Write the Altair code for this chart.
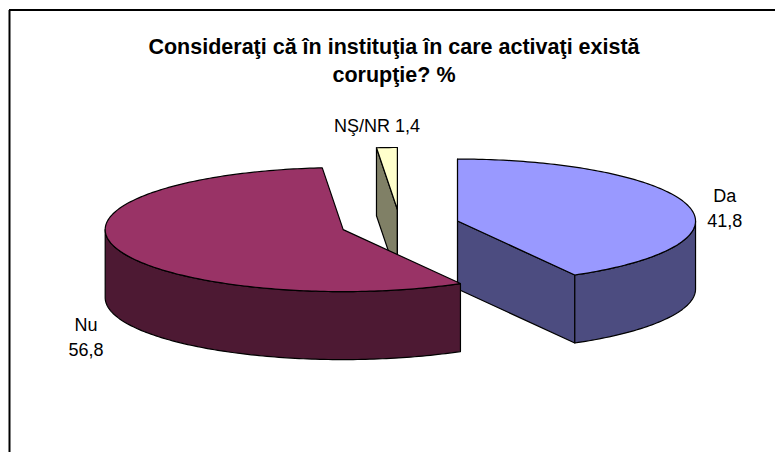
import math
import altair as alt
import pandas as pd

# ---- data ----
categories = ["Da", "Nu", "NŞ/NR"]
values = [41.8, 56.8, 1.4]
value_labels = ["41,8", "56,8", "1,4"]
label_texts = ["Da\n41,8", "Nu\n56,8", "NŞ/NR 1,4"]
top_colors = ["#9999FF", "#993366", "#FFFFCC"]
side_colors = ["#4C4C80", "#4D1933", "#808066"]
title_lines = ["Consideraţi că în instituţia în care activaţi există", "corupţie? %"]

# ---- 3D pie look (style / layout) ----
TILT = 62 / 238.0          # vertical squash of the top ellipse
DEPTH = 68 / 238.0         # thickness of the pie
EXPLODE = 0.25             # explode distance (fraction of radius)
RADIUS_PX = 238.0
CENTER_VIEW = (391.0, 215.0)
W, H = 766, 442
PAD = {"left": 1, "top": 2, "right": 0, "bottom": 0}

total = sum(values)
starts, ends = [], []
acc = 0.0
for v in values:
    starts.append(acc / total * 360.0)
    acc += v
    ends.append(acc / total * 360.0)


def proj(theta, r, z, off):
    t = math.radians(theta)
    gx = off[0] + r * math.sin(t)
    gy = off[1] + r * math.cos(t)
    return gx, gy * TILT + z


def arc(a, b, z, off, step=1.0):
    n = max(2, int(abs(b - a) / step) + 1)
    return [proj(a + (b - a) * k / (n - 1), 1.0, z, off) for k in range(n)]


faces = []  # (name, fill, points)
offsets = []
for i in range(len(values)):
    mid = math.radians((starts[i] + ends[i]) / 2)
    offsets.append((EXPLODE * math.sin(mid), EXPLODE * math.cos(mid)))

draw_order = [2, 0, 1]  # back to front
for i in draw_order:
    a0, a1, off = starts[i], ends[i], offsets[i]
    c_top = proj(0, 0, 0, off)
    c_bot = proj(0, 0, -DEPTH, off)
    # cut face at start angle
    if math.cos(math.radians(a0 - 90)) <= 1e-9:
        faces.append((f"{categories[i]}_cut0", side_colors[i],
                      [c_top, proj(a0, 1, 0, off), proj(a0, 1, -DEPTH, off), c_bot]))
    # cut face at end angle
    if math.cos(math.radians(a1 + 90)) <= 1e-9:
        faces.append((f"{categories[i]}_cut1", side_colors[i],
                      [c_top, proj(a1, 1, 0, off), proj(a1, 1, -DEPTH, off), c_bot]))
    # outer visible side (front half: 90..270 deg)
    s, e = max(a0, 90.0), min(a1, 270.0)
    if e > s:
        pts = arc(s, e, 0, off) + arc(e, s, -DEPTH, off)
        faces.append((f"{categories[i]}_side", side_colors[i], pts))
    # top face
    faces.append((f"{categories[i]}_top", top_colors[i], [c_top] + arc(a0, a1, 0, off)))

xdom = [-CENTER_VIEW[0] / RADIUS_PX, (W - CENTER_VIEW[0]) / RADIUS_PX]
ydom = [-(H - CENTER_VIEW[1]) / RADIUS_PX, CENTER_VIEW[1] / RADIUS_PX]
X = alt.X("x:Q", scale=alt.Scale(domain=xdom, nice=False, zero=False), axis=None)
Y = alt.Y("y:Q", scale=alt.Scale(domain=ydom, nice=False, zero=False), axis=None)

layers = []
for name, fill, pts in faces:
    df = pd.DataFrame({"i": range(len(pts)), "x": [p[0] for p in pts], "y": [p[1] for p in pts]})
    layers.append(
        alt.Chart(df).mark_line(interpolate="linear-closed", fill=fill, stroke="black",
                                strokeWidth=1.2, strokeJoin="round")
        .encode(x=X, y=Y, order=alt.Order("i:Q"))
    )

# labels anchored on each slice's rim along its bisector
lab_rows = []
for i in range(len(values)):
    mid = (starts[i] + ends[i]) / 2
    ax, ay = proj(mid, 1.0, 0, offsets[i])
    lab_rows.append({"cat": categories[i], "x": ax, "y": ay, "label": label_texts[i]})
lab_df = pd.DataFrame(lab_rows)
label_shift = {"Da": (37, -8), "Nu": (-30, 78), "NŞ/NR": (-10, -21)}
for cat, (dx, dy) in label_shift.items():
    layers.append(
        alt.Chart(lab_df).transform_filter(alt.datum.cat == cat)
        .mark_text(font="Liberation Sans", fontSize=18, color="black", align="center",
                   baseline="middle", lineBreak="\n", lineHeight=25, dx=dx, dy=dy)
        .encode(x=X, y=Y, text="label:N")
    )

# title
title_df = pd.DataFrame({"line": title_lines, "k": [0, 1]})
for k, ty in [(0, 44), (1, 72)]:
    layers.append(
        alt.Chart(title_df).transform_filter(alt.datum.k == k)
        .mark_text(font="Liberation Sans", fontSize=21.5, fontWeight="bold",
                   color="black", align="center", baseline="alphabetic")
        .encode(x=alt.value(385), y=alt.value(ty), text="line:N")
    )

# chart frame (left and top edges visible in the reference)
frame_df = pd.DataFrame({"k": [0]})
layers.append(alt.Chart(frame_df).mark_rule(color="black", strokeWidth=2)
              .encode(x=alt.value(0.5), y=alt.value(0), y2=alt.value(H)))
layers.append(alt.Chart(frame_df).mark_rule(color="black", strokeWidth=2)
              .encode(x=alt.value(0), x2=alt.value(W), y=alt.value(0)))

chart = (
    alt.layer(*layers)
    .properties(width=W, height=H, padding=PAD, autosize=alt.AutoSizeParams(type="none"),
                background="white")
    .configure_view(stroke=None)
)
chart.save("out.html", embed_options={"renderer": "svg", "actions": False})
